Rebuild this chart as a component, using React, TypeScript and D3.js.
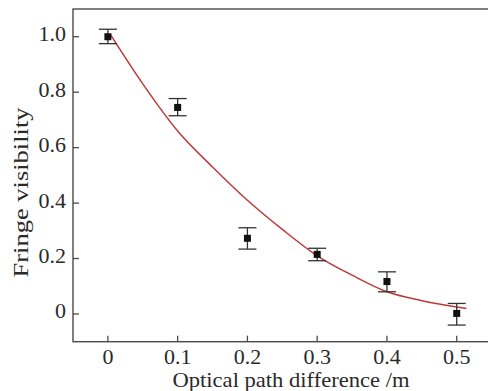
import * as d3 from "d3";

// ── Data ──────────────────────────────────────────────────────
const OPD = [0, 0.1, 0.2, 0.3, 0.4, 0.5];
const VISIBILITY = [1.0, 0.745, 0.273, 0.215, 0.117, 0.002];
const ERR_HIGH = [1.027, 0.777, 0.311, 0.237, 0.152, 0.038];
const ERR_LOW = [0.975, 0.715, 0.234, 0.192, 0.08, -0.04];

// fitted curve
const FIT_X = [0.003, 0.05, 0.1, 0.15, 0.2, 0.25, 0.3, 0.35, 0.4, 0.45, 0.514];
const FIT_Y = [1.01, 0.83, 0.66, 0.53, 0.41, 0.305, 0.21, 0.14, 0.08, 0.048, 0.02];

const X_TICKS = [0, 0.1, 0.2, 0.3, 0.4, 0.5];
const Y_TICKS = [0, 0.2, 0.4, 0.6, 0.8, 1.0];

// ── Geometry ──────────────────────────────────────────────────
const W = 488;
const H = 391;
const PLOT = { left: 73, right: 491.6, top: 9, bottom: 341.7 };
const FONT = "'Liberation Serif', 'DejaVu Serif', serif";
const AXIS = "#4a4a4a";
const INK = "#2a2a2a";

export default function App() {
  const x = d3.scaleLinear().domain([-0.05, 0.55]).range([PLOT.left, PLOT.right]);
  const y = d3.scaleLinear().domain([-0.1, 1.1]).range([PLOT.bottom, PLOT.top]);

  const fit = d3
    .line<number>()
    .x((d) => x(d))
    .y((_, i) => y(FIT_Y[i]))
    .curve(d3.curveMonotoneX)(FIT_X);

  const fmt = (t: number) => (t === 0 ? "0" : t.toFixed(1));

  return (
    <div style={{ position: "fixed", left: 0, top: 0 }}>
      <svg width={W} height={H} style={{ display: "block", background: "#fff" }} fontFamily={FONT}>
        {/* frame (right edge falls just outside the picture) */}
        <rect
          x={PLOT.left}
          y={PLOT.top}
          width={PLOT.right - PLOT.left}
          height={PLOT.bottom - PLOT.top}
          fill="none"
          stroke={AXIS}
          strokeWidth={1.4}
        />

        {/* ticks, inward */}
        {X_TICKS.map((t) => (
          <g key={`xt-${t}`}>
            <line x1={x(t)} x2={x(t)} y1={PLOT.bottom} y2={PLOT.bottom - 6} stroke={AXIS} strokeWidth={1.3} />
            <text x={x(t)} y={364} textAnchor="middle" fontSize={22} fill={INK}>
              {fmt(t)}
            </text>
          </g>
        ))}
        {Y_TICKS.map((t) => (
          <g key={`yt-${t}`}>
            <line x1={PLOT.left} x2={PLOT.left + 6} y1={y(t)} y2={y(t)} stroke={AXIS} strokeWidth={1.3} />
            <text x={66} y={y(t) + 4.5} textAnchor="end" fontSize={22} fill={INK}>
              {fmt(t)}
            </text>
          </g>
        ))}

        {/* axis titles */}
        <text
          x={291}
          y={387}
          textAnchor="middle"
          fontSize={22}
          fill={INK}
          textLength={237}
          lengthAdjust="spacingAndGlyphs"
        >
          Optical path difference /m
        </text>
        <text
          x={0}
          y={0}
          transform="translate(28, 192.5) rotate(-90)"
          textAnchor="middle"
          fontSize={21}
          fill={INK}
          textLength={170}
          lengthAdjust="spacingAndGlyphs"
        >
          Fringe visibility
        </text>

        {/* fit */}
        <path d={fit ?? ""} fill="none" stroke="#c0393a" strokeWidth={1.5} />

        {/* error bars + points */}
        {OPD.map((d, i) => {
          const cx = x(d);
          return (
            <g key={`pt-${d}`}>
              <line x1={cx} x2={cx} y1={y(ERR_HIGH[i])} y2={y(ERR_LOW[i])} stroke="#333" strokeWidth={1.3} />
              <line x1={cx - 9} x2={cx + 9} y1={y(ERR_HIGH[i])} y2={y(ERR_HIGH[i])} stroke="#333" strokeWidth={1.3} />
              <line x1={cx - 9} x2={cx + 9} y1={y(ERR_LOW[i])} y2={y(ERR_LOW[i])} stroke="#333" strokeWidth={1.3} />
              <rect x={cx - 3.5} y={y(VISIBILITY[i]) - 3.5} width={7} height={7} fill="#111" />
            </g>
          );
        })}
      </svg>
    </div>
  );
}
